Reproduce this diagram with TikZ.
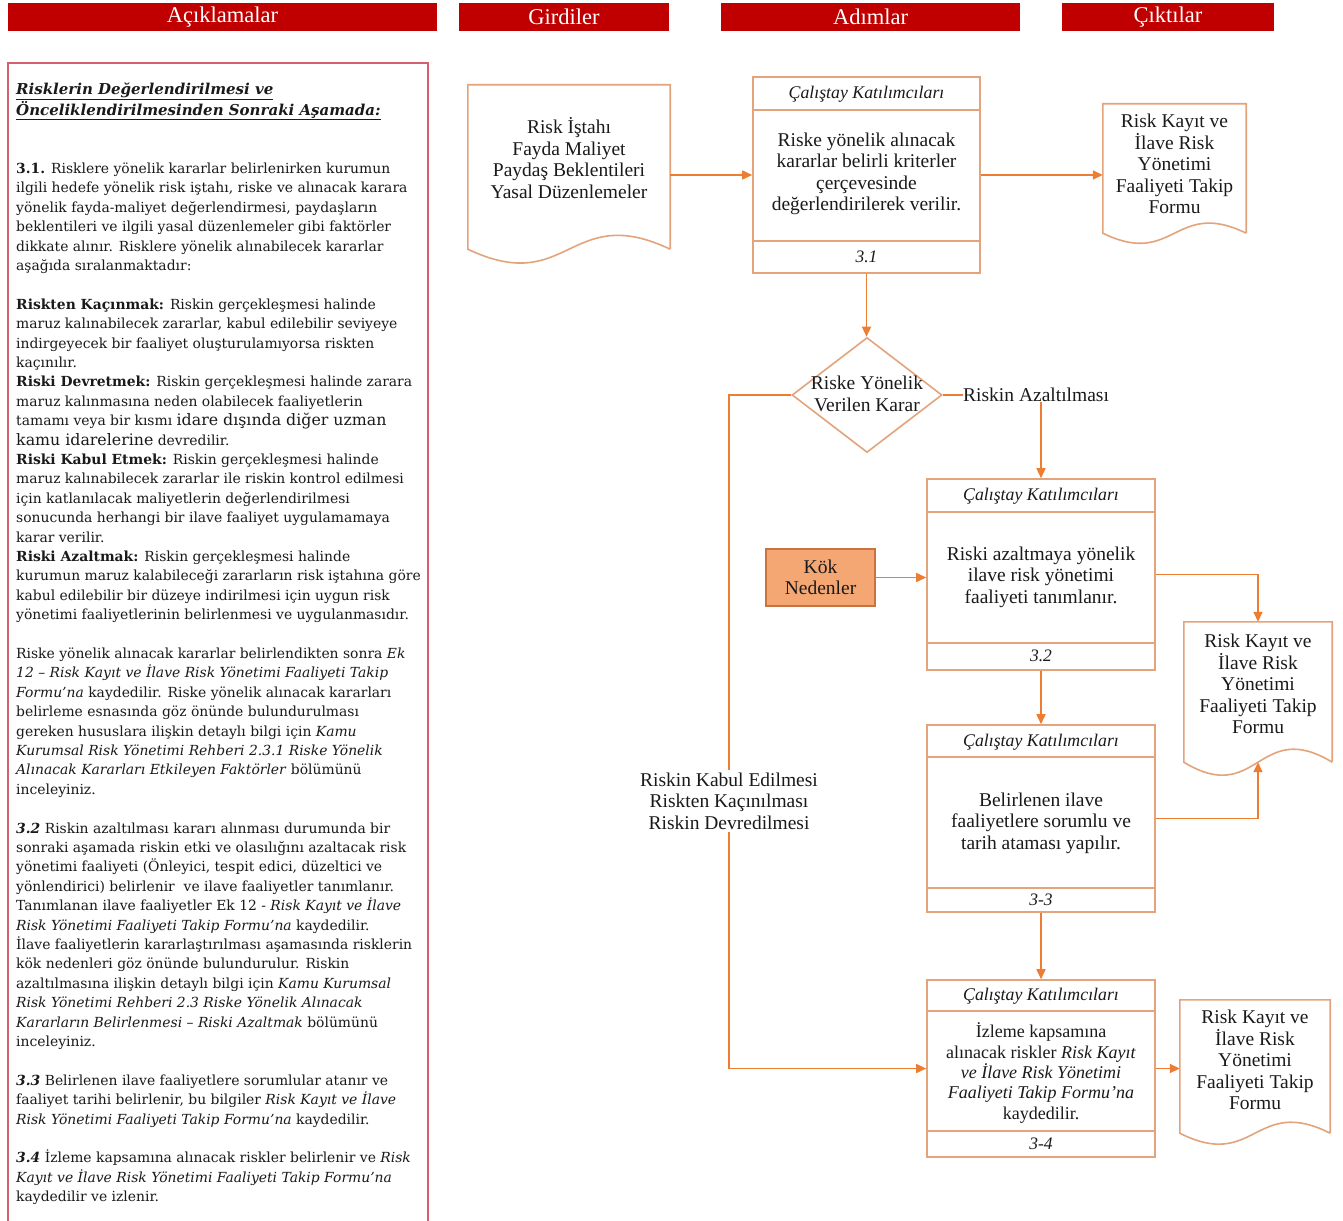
\documentclass[tikz,border=0pt]{standalone}
\usepackage{fontspec}
\setmainfont{Liberation Serif}
\newfontfamily\panelfont{DejaVu Serif}
\usetikzlibrary{shapes.geometric,arrows.meta}
\definecolor{hdrred}{HTML}{C00000}
\definecolor{boxc}{HTML}{E3A47C}
\definecolor{linec}{HTML}{ED7D31}
\definecolor{panelc}{HTML}{D4606F}
\definecolor{kokfill}{HTML}{F4A673}
\definecolor{kokdraw}{HTML}{C87440}
\definecolor{txt}{HTML}{1A1A1A}
\newcommand\docshape[2]{%
  \draw[docline] (#1.south east) -- (#1.north east) -- (#1.north west) -- (#1.south west)
    .. controls ([yshift=-#2]#1.south) and ([yshift=#2]#1.south) .. (#1.south east);}
\begin{document}
\begin{tikzpicture}[x=1pt,y=-1pt,
  every node/.style={text=txt},
  hdr/.style={fill=hdrred, text=white, inner sep=0, minimum height=28pt, font=\fontsize{22.5}{24}\selectfont},
  stepbox/.style={draw=boxc, line width=1.6pt, fill=white, inner sep=0},
  divline/.style={draw=boxc, line width=1.6pt},
  docbox/.style={inner sep=0, draw=none},
  docline/.style={draw=boxc, line width=1.6pt, fill=white},
  flowtxt/.style={align=center, inner sep=0, font=\fontsize{19.5}{21.5}\selectfont},
  roletxt/.style={inner sep=0, font=\fontsize{17.8}{19}\selectfont\itshape},
  numtxt/.style={inner sep=0, font=\fontsize{17.5}{18}\selectfont\itshape},
  conn/.style={draw=linec, line width=1.6pt},
  arr/.style={conn, -{Triangle[length=10pt,width=9pt]}},
]
\useasboundingbox (0,0) rectangle (1343,1220);
\fill[white] (0,0) rectangle (1343,1220);

% headers
\node[hdr, minimum width=429pt] (hA) at (222.5,17) {Açıklamalar};
\node[hdr, minimum width=210pt] (hG) at (564,17) {Girdiler};
\node[hdr, minimum width=299pt] (hS) at (870.5,17) {Adımlar};
\node[hdr, minimum width=212pt] (hC) at (1168,17) {Çıktılar};

% left panel
\draw[panelc, line width=2pt] (8,1225) -- (8,63) -- (428,63) -- (428,1225);
\node[anchor=north west, inner sep=0, align=left, font=\panelfont\fontsize{13.9}{19.4}\selectfont] (pnl) at (16,83) {%
{\fontsize{15}{19.4}\selectfont\bfseries\itshape\underline{Risklerin Değerlendirilmesi ve}}\\
{\fontsize{15}{19.4}\selectfont\bfseries\itshape\underline{Önceliklendirilmesinden Sonraki Aşamada:}}\\
\mbox{}\\
\mbox{}\\
\textbf{3.1.} Risklere yönelik kararlar belirlenirken kurumun\\
ilgili hedefe yönelik risk iştahı, riske ve alınacak karara\\
yönelik fayda-maliyet değerlendirmesi, paydaşların\\
beklentileri ve ilgili yasal düzenlemeler gibi faktörler\\
dikkate alınır. Risklere yönelik alınabilecek kararlar\\
aşağıda sıralanmaktadır:\\
\mbox{}\\
\textbf{Riskten Kaçınmak:} Riskin gerçekleşmesi halinde\\
maruz kalınabilecek zararlar, kabul edilebilir seviyeye\\
indirgeyecek bir faaliyet oluşturulamıyorsa riskten\\
kaçınılır.\\
\textbf{Riski Devretmek:} Riskin gerçekleşmesi halinde zarara\\
maruz kalınmasına neden olabilecek faaliyetlerin\\
tamamı veya bir kısmı {\fontsize{15.8}{19.4}\selectfont idare dışında diğer uzman}\\
{\fontsize{15.8}{19.4}\selectfont kamu idarelerine} devredilir.\\
\textbf{Riski Kabul Etmek:} Riskin gerçekleşmesi halinde\\
maruz kalınabilecek zararlar ile riskin kontrol edilmesi\\
için katlanılacak maliyetlerin değerlendirilmesi\\
sonucunda herhangi bir ilave faaliyet uygulamamaya\\
karar verilir.\\
\textbf{Riski Azaltmak:} Riskin gerçekleşmesi halinde\\
kurumun maruz kalabileceği zararların risk iştahına göre\\
kabul edilebilir bir düzeye indirilmesi için uygun risk\\
yönetimi faaliyetlerinin belirlenmesi ve uygulanmasıdır.\\
\mbox{}\\
Riske yönelik alınacak kararlar belirlendikten sonra \textit{Ek}\\
\textit{12 – Risk Kayıt ve İlave Risk Yönetimi Faaliyeti Takip}\\
\textit{Formu’na} kaydedilir. Riske yönelik alınacak kararları\\
belirleme esnasında göz önünde bulundurulması\\
gereken hususlara ilişkin detaylı bilgi için \textit{Kamu}\\
\textit{Kurumsal Risk Yönetimi Rehberi 2.3.1 Riske Yönelik}\\
\textit{Alınacak Kararları Etkileyen Faktörler} bölümünü\\
inceleyiniz.\\
\mbox{}\\
\textbf{\textit{3.2}} Riskin azaltılması kararı alınması durumunda bir\\
sonraki aşamada riskin etki ve olasılığını azaltacak risk\\
yönetimi faaliyeti (Önleyici, tespit edici, düzeltici ve\\
yönlendirici) belirlenir\ \ ve ilave faaliyetler tanımlanır.\\
Tanımlanan ilave faaliyetler Ek 12 - \textit{Risk Kayıt ve İlave}\\
\textit{Risk Yönetimi Faaliyeti Takip Formu’na} kaydedilir.\\
İlave faaliyetlerin kararlaştırılması aşamasında risklerin\\
kök nedenleri göz önünde bulundurulur. Riskin\\
azaltılmasına ilişkin detaylı bilgi için \textit{Kamu Kurumsal}\\
\textit{Risk Yönetimi Rehberi 2.3 Riske Yönelik Alınacak}\\
\textit{Kararların Belirlenmesi – Riski Azaltmak} bölümünü\\
inceleyiniz.\\
\mbox{}\\
\textbf{\textit{3.3}} Belirlenen ilave faaliyetlere sorumlular atanır ve\\
faaliyet tarihi belirlenir, bu bilgiler \textit{Risk Kayıt ve İlave}\\
\textit{Risk Yönetimi Faaliyeti Takip Formu’na} kaydedilir.\\
\mbox{}\\
\textbf{\textit{3.4}} İzleme kapsamına alınacak riskler belirlenir ve \textit{Risk}\\
\textit{Kayıt ve İlave Risk Yönetimi Faaliyeti Takip Formu’na}\\
kaydedilir ve izlenir.};

% input document
\node[docbox, minimum width=202pt, minimum height=164pt] (in1) at (569,167) {};
\docshape{in1}{48pt}
\node[flowtxt] (in1t) at (569,158) {Risk İştahı\\Fayda Maliyet\\Paydaş Beklentileri\\Yasal Düzenlemeler};

% step 3.1
\node[stepbox, minimum width=227pt, minimum height=196pt] (s1) at (866.5,175) {};
\draw[divline] ([yshift=-34pt]s1.north west) -- ([yshift=-34pt]s1.north east);
\draw[divline] ([yshift=33pt]s1.south west) -- ([yshift=33pt]s1.south east);
\node[roletxt] (s1r) at (866.5,94) {Çalıştay Katılımcıları};
\node[flowtxt] (s1b) at (866.5,174) {Riske yönelik alınacak\\kararlar belirli kriterler\\çerçevesinde\\değerlendirilerek verilir.};
\node[numtxt] (s1n) at (866.5,257) {3.1};

% output 1
\node[docbox, minimum width=143pt, minimum height=129pt] (out1) at (1174.5,168.5) {};
\docshape{out1}{35pt}
\node[flowtxt] (out1t) at (1174.5,164) {Risk Kayıt ve\\İlave Risk\\Yönetimi\\Faaliyeti Takip\\Formu};

% decision
\node[diamond, draw=boxc, line width=1.6pt, fill=white, minimum width=150pt, minimum height=115pt, inner sep=0] (dec) at (867,395) {};
\node[flowtxt] (dect) at (867,394) {Riske Yönelik\\Verilen Karar};
\node[flowtxt, anchor=west] (azl) at (963,395) {Riskin Azaltılması};
\node[flowtxt, fill=white, inner sep=2pt] (kab) at (729,801) {Riskin Kabul Edilmesi\\Riskten Kaçınılması\\Riskin Devredilmesi};

% step 3.2
\node[stepbox, minimum width=228pt, minimum height=191pt] (s2) at (1041,574.5) {};
\draw[divline] ([yshift=-34pt]s2.north west) -- ([yshift=-34pt]s2.north east);
\draw[divline] ([yshift=28pt]s2.south west) -- ([yshift=28pt]s2.south east);
\node[roletxt] (s2r) at (1041,496) {Çalıştay Katılımcıları};
\node[flowtxt] (s2b) at (1041,577) {Riski azaltmaya yönelik\\ilave risk yönetimi\\faaliyeti tanımlanır.};
\node[numtxt] (s2n) at (1041,656) {3.2};

% kok nedenler
\node[flowtxt, draw=kokdraw, fill=kokfill, line width=1.2pt, minimum width=109pt, minimum height=57pt] (kok) at (820.5,577.5) {Kök\\Nedenler};

% output 2
\node[docbox, minimum width=148pt, minimum height=140pt] (out2) at (1258,692) {};
\docshape{out2}{45pt}
\node[flowtxt] (out2t) at (1258,684) {Risk Kayıt ve\\İlave Risk\\Yönetimi\\Faaliyeti Takip\\Formu};

% step 3.3
\node[stepbox, minimum width=228pt, minimum height=187pt] (s3) at (1041,818.5) {};
\draw[divline] ([yshift=-33pt]s3.north west) -- ([yshift=-33pt]s3.north east);
\draw[divline] ([yshift=25pt]s3.south west) -- ([yshift=25pt]s3.south east);
\node[roletxt] (s3r) at (1041,742) {Çalıştay Katılımcıları};
\node[flowtxt] (s3b) at (1041,823) {Belirlenen ilave\\faaliyetlere sorumlu ve\\tarih ataması yapılır.};
\node[numtxt] (s3n) at (1041,900) {3-3};

% step 3.4
\node[stepbox, minimum width=228pt, minimum height=177pt] (s4) at (1041,1068.5) {};
\draw[divline] ([yshift=-32pt]s4.north west) -- ([yshift=-32pt]s4.north east);
\draw[divline] ([yshift=27pt]s4.south west) -- ([yshift=27pt]s4.south east);
\node[roletxt] (s4r) at (1041,996) {Çalıştay Katılımcıları};
\node[align=center, inner sep=0, font=\fontsize{18}{20.3}\selectfont] (s4b) at (1041,1073) {İzleme kapsamına\\alınacak riskler \textit{Risk Kayıt}\\\textit{ve İlave Risk Yönetimi}\\\textit{Faaliyeti Takip Formu’na}\\kaydedilir.};
\node[numtxt] (s4n) at (1041,1144) {3-4};

% output 3
\node[docbox, minimum width=150pt, minimum height=133pt] (out3) at (1255,1066.5) {};
\docshape{out3}{38pt}
\node[flowtxt] (out3t) at (1255,1060) {Risk Kayıt ve\\İlave Risk\\Yönetimi\\Faaliyeti Takip\\Formu};

% connectors
\draw[arr] (in1.east |- s1.west) -- (s1.west);
\draw[arr] (s1.east) -- (s1.east -| out1.west);
\draw[arr] (s1.south) -- (s1.south |- dec.north);
\draw[conn] (dec.east) -- (azl.west);
\draw[arr] (s2.north |- azl.south) -- (s2.north);
\draw[conn] (dec.west) -| (kab.north);
\draw[arr] (kab.south) |- (s4.west);
\draw[arr] (kok.east) -- (kok.east -| s2.west);
\draw[arr] (s2.east) -| (out2.north);
\draw[arr] (s2.south) -- (s3.north);
\draw[arr] (s3.east) -| (out2.south);
\draw[arr] (s3.south) -- (s4.north);
\draw[arr] (s4.east) -- (s4.east -| out3.west);
\end{tikzpicture}
\end{document}
